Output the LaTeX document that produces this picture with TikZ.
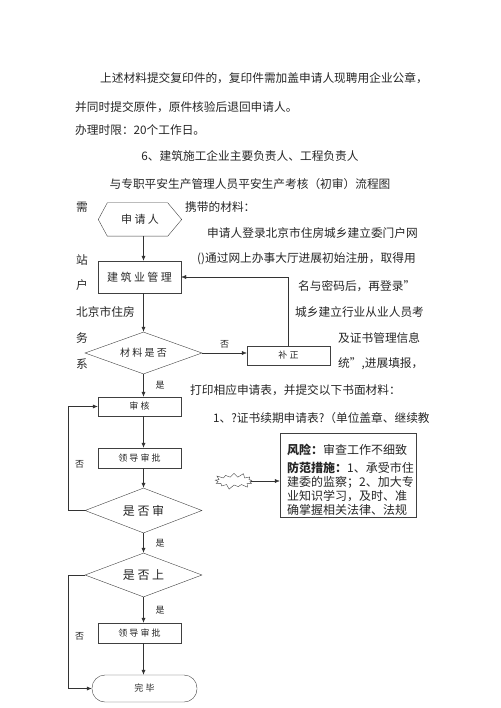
\documentclass[tikz,border=0pt]{standalone}
\usepackage{fontspec}
\setmainfont{Noto Sans CJK SC}
\usetikzlibrary{arrows.meta,positioning,calc,shapes.geometric,shapes.symbols}

\begin{document}
\begin{tikzpicture}[x=1pt, y=-1pt,
  every node/.style={font=\fontsize{11.7pt}{14pt}\selectfont, inner sep=0pt, text=black!85},
  txt/.style={anchor=west},
  box/.style={draw=black!75, minimum width=83pt, minimum height=20pt, font=\fontsize{9pt}{10pt}\selectfont},
  dec/.style={diamond, draw=black!75, aspect=2.8, minimum width=117pt, minimum height=42pt},
  flow/.style={draw=black!80, -{Latex[length=5pt,width=4pt]}},
  lbl/.style={font=\fontsize{9pt}{10pt}\selectfont}
]
  \useasboundingbox (0,0) rectangle (500,708);

  % Running text above the chart
  \node[txt] (p1) at (100,78) {上述材料提交复印件的，复印件需加盖申请人现聘用企业公章，};
  \node[txt] (p2) at (75,107) {并同时提交原件，原件核验后退回申请人。};
  \node[txt] (p3) at (75,130) {办理时限：20个工作日。};
  \node (t1) at (250,156) {6、建筑施工企业主要负责人、工程负责人};
  \node (t2) at (250,184) {与专职平安生产管理人员平安生产考核（初审）流程图};

  % Text round the chart
  \node[txt] (s1) at (76,207) {需};
  \node[txt] (s2) at (76,260) {站};
  \node[txt] (s3) at (76,285) {户};
  \node[txt] (s4) at (76,312) {北京市住房};
  \node[txt] (s5) at (76,338) {务};
  \node[txt] (s6) at (76,364) {系};
  \node[txt] (r1) at (185,207) {携带的材料：};
  \node[txt] (r2) at (207,233) {申请人登录北京市住房城乡建立委门户网};
  \node[txt] (r3) at (197,259) {()通过网上办事大厅进展初始注册，取得用};
  \node[txt] (r4) at (298,286) {名与密码后，再登录”};
  \node[txt] (r5) at (295,312) {城乡建立行业从业人员考};
  \node[txt] (r6) at (338,338) {及证书管理信息};
  \node[txt] (r7) at (338,364) {统”,进展填报，};
  \node[txt] (r8) at (190,390) {打印相应申请表，并提交以下书面材料：};
  \node[txt] (r9) at (213,418) {1、?证书续期申请表?（单位盖章、继续教};

  % Flow nodes
  \node[minimum width=83pt, minimum height=33pt, font=\fontsize{11pt}{12pt}\selectfont] (app) at (140,219.5) {申 请 人};
  \draw[black!75] (app.west) -- ([xshift=9pt]app.north west) -- ([xshift=-14pt]app.north east)
    -- (app.east) -- ([xshift=-14pt]app.south east) -- ([xshift=9pt]app.south west) -- cycle;
  \node[box, minimum height=32pt, font=\fontsize{11pt}{12pt}\selectfont] (mgmt) at (139.5,277) {建 筑 业 管 理};
  \node[dec, font=\fontsize{10pt}{12pt}\selectfont] (chk) at (143.5,353) {材 料 是 否};
  \node[box, minimum height=19pt] (fix) at (288.5,355.5) {补 正};
  \node[box, minimum height=19pt] (rev) at (139.5,406.5) {审 核};
  \node[box] (lead1) at (139.5,458) {领 导 审 批};
  \node[dec, minimum height=45pt, font=\fontsize{12pt}{14pt}\selectfont] (q1) at (143.5,510.5) {是 否 审};
  \node[dec, minimum height=44pt, font=\fontsize{12pt}{14pt}\selectfont] (q2) at (143.5,575) {是 否 上};
  \node[box] (lead2) at (139.5,633) {领 导 审 批};
  \node[draw=black!75, rounded corners=13pt, minimum width=105pt, minimum height=27pt,
    font=\fontsize{9pt}{10pt}\selectfont] (done) at (144.5,688.5) {完 毕};

  % Connectors
  \draw[flow] (app.south -| chk.north) -- (mgmt.north -| chk.north);
  \draw[flow] (mgmt.south -| chk.north) -- (chk.north);
  \draw[flow] (chk.east) -- (chk.east -| fix.west) node[lbl, midway, above=5pt] {否};
  \draw[flow] (fix.north) |- (mgmt.east);
  \draw[flow] (chk.south) -- (rev.north -| chk.south) node[lbl, midway, right=12pt] {是};
  \draw[flow] (rev.south -| chk.south) -- (lead1.north -| chk.south);
  \draw[flow] (lead1.south -| chk.south) -- (q1.north);
  \draw[flow] (q1.west) -- ++(-17,0) |- (rev.west) node[lbl, pos=0.22, right=7pt] {否};
  \draw[flow] (q1.south) -- (q2.north) node[lbl, midway, right=12pt] {是};
  \draw[flow] (q2.south) -- (lead2.north -| q2.south) node[lbl, midway, right=12pt] {是};
  \draw[flow] (lead2.south -| q2.south) -- (done.north -| q2.south);
  \draw[flow] (q2.west) -- ++(-17,0) |- (done.west) node[lbl, pos=0.27, right=7pt] {否};

  % Risk note
  \node[starburst, draw=black!75, starburst points=13, starburst point height=5pt,
    minimum width=42pt, minimum height=18pt] (burst) at (234,481) {};
  \node[draw=black!75, minimum width=136pt, minimum height=84pt] (risk) at (348,475) {};
  \draw[flow] (burst.east) -- (burst.east -| risk.west);
  \begin{scope}[every node/.style={font=\fontsize{12pt}{14pt}\selectfont, inner sep=0pt, anchor=west, text=black!85}]
    \node (k1) at (287,450) {\textbf{风险：}审查工作不细致};
    \node (k2) at (287,468) {\textbf{防范措施：}1、承受市住};
    \node (k3) at (287,482) {建委的监察；2、加大专};
    \node (k4) at (287,496) {业知识学习，及时、准};
    \node (k5) at (287,510) {确掌握相关法律、法规};
  \end{scope}
\end{tikzpicture}
\end{document}
